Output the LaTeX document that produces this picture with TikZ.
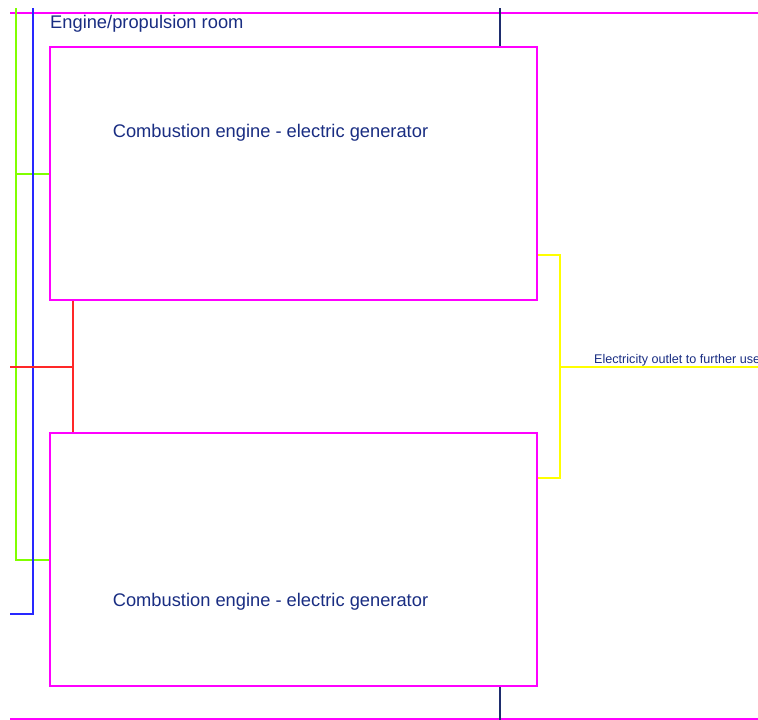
\documentclass[tikz,border=0pt]{standalone}
\usepackage{fontspec}
\setmainfont{Liberation Sans}
\definecolor{wall}{RGB}{255,0,255}
\definecolor{fuel}{RGB}{128,255,0}
\definecolor{cool}{RGB}{40,40,255}
\definecolor{exhaust}{RGB}{255,40,40}
\definecolor{power}{RGB}{255,255,0}
\definecolor{shaft}{RGB}{30,45,110}
\definecolor{txt}{RGB}{25,45,130}
\tikzset{
  genbox/.style={draw=wall, line width=2pt, minimum width=487pt, minimum height=253pt, inner sep=0pt},
  pipe/.style={line width=2pt},
  big/.style={text=txt, font=\fontsize{18.3}{22}\selectfont, inner sep=0pt},
  small/.style={text=txt, font=\fontsize{12.6}{15}\selectfont, inner sep=0pt}
}
\begin{document}
\begin{tikzpicture}[x=1pt,y=-1pt]
\useasboundingbox (0,0) rectangle (758,720);
\node[genbox] (gen1) at (293.5,173.5) {};
\node[genbox] (gen2) at (293.5,559.5) {};
\node[big, anchor=base west] (room) at (50,28) {Engine/propulsion room};
\node[big, anchor=base] (gen1text) at (270.5,137.5) {Combustion engine - electric generator};
\node[big, anchor=base] (gen2text) at (270.5,606.5) {Combustion engine - electric generator};
\node[small, anchor=base west] (outlet) at (594,363) {Electricity outlet to further use};
\coordinate (fueltop) at (16,8);
\coordinate (fuelbot) at (16,560);
\coordinate (cooltop) at (33,8);
\coordinate (coolbot) at (33,614);
\coordinate (coolend) at (10,614);
\coordinate (exhin) at (10,367);
\coordinate (exhjoin) at (73,367);
\coordinate (busa) at (560,255);
\coordinate (busb) at (560,478);
\coordinate (busmid) at (560,367);
\coordinate (busout) at (758,367);
\coordinate (shafttop) at (500,8);
\coordinate (shaftbot) at (500,720);
\draw[wall, pipe] (10,13) -- (758,13);
\draw[wall, pipe] (10,719) -- (758,719);
\draw[shaft, pipe] (shafttop) -- (shafttop |- gen1.north);
\draw[shaft, pipe] (shaftbot) -- (shaftbot |- gen2.south);
\draw[fuel, pipe] (fueltop) -- (fuelbot) -- (gen2.west |- fuelbot);
\draw[fuel, pipe] (fueltop |- gen1.west) -- (gen1.west);
\draw[cool, pipe] (cooltop) -- (coolbot) -- (coolend);
\draw[exhaust, pipe] (exhjoin |- gen1.south) -- (exhjoin |- gen2.north);
\draw[exhaust, pipe] (exhin) -- (exhjoin);
\draw[power, pipe] (gen1.east |- busa) -- (busa) -- (busb) -- (gen2.east |- busb);
\draw[power, pipe] (busmid) -- (busout);
\end{tikzpicture}
\end{document}
